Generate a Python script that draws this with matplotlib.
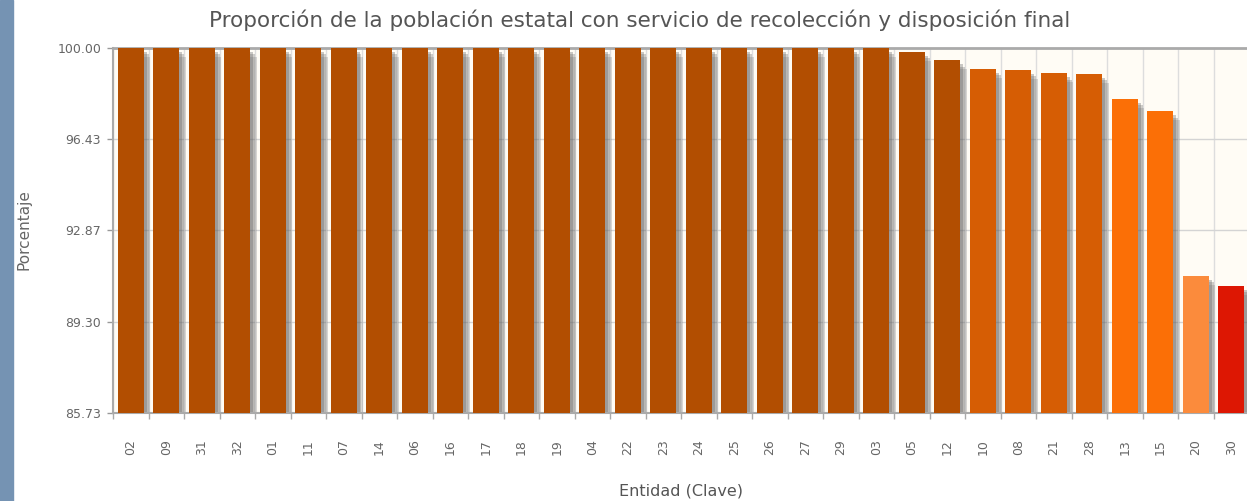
import numpy as np
import matplotlib
matplotlib.use('Agg')
import matplotlib.pyplot as plt
from matplotlib.patches import Rectangle

# Data
claves = ['02', '09', '31', '32', '01', '11', '07', '14', '06', '16',
          '17', '18', '19', '04', '22', '23', '24', '25', '26', '27',
          '29', '03', '05', '12', '10', '08', '21', '28', '13', '15',
          '20', '30']
valores = [100.00] * 22 + [99.85, 99.52, 99.19, 99.15, 99.01, 98.99,
                           98.01, 97.52, 91.09, 90.70]
colores = ['#b24e01'] * 24 + ['#d65d04'] * 4 + ['#fb6f06'] * 2 + ['#fb8b3c', '#dd1703']

y_min, y_max = 85.73, 100.00
titulo = 'Proporción de la población estatal con servicio de recolección y disposición final'

W, H = 1247, 501
fig = plt.figure(figsize=(W / 100, H / 100), dpi=100)
fig.patch.set_facecolor('white')

# blue strip at the left edge
fig.patches.append(Rectangle((0, 0), 13 / W, 1, transform=fig.transFigure,
                             color='#7593b3', zorder=0))

ax = fig.add_axes([113 / W, (H - 413) / H, (1249 - 113) / W, 365 / H])
ax.set_facecolor('#fffcf5')

x = np.arange(len(claves))
alturas = np.array(valores) - y_min

# blurred shadow to the right of each bar (stacked layers)
for dx, dy, a in [(0.19, 0.35, 0.22), (0.14, 0.25, 0.3), (0.09, 0.15, 0.35)]:
    ax.bar(x + dx, alturas - dy, width=0.72, bottom=y_min, color='#666666',
           alpha=a, zorder=2, linewidth=0)
ax.bar(x, alturas, width=0.72, bottom=y_min, color=colores, zorder=3, linewidth=0)

ax.set_xlim(-0.5, len(claves) - 0.5)
ax.set_ylim(y_min, y_max)

yt = np.linspace(y_min, y_max, 5)
ax.set_yticks(yt)
ax.set_yticklabels([f'{v:.2f}' for v in yt])
ax.set_xticks(x)
ax.set_xticklabels(claves, rotation=90)
ax.set_xticks(np.arange(len(claves) + 1) - 0.5, minor=True)

ax.tick_params(axis='y', length=4.5, width=1, color='#999999', pad=4,
               labelsize=9, labelcolor='#666666')
ax.tick_params(axis='x', which='major', length=0, pad=19, labelsize=9, labelcolor='#666666')
ax.tick_params(axis='x', which='minor', length=4, width=1, color='#aaaaaa')

ax.grid(axis='y', color='#d4d4d4', linewidth=1, zorder=1)
ax.grid(axis='x', which='minor', color='#dddddd', linewidth=1, zorder=1)
ax.set_axisbelow(True)

for s in ['left', 'bottom']:
    ax.spines[s].set_color('#aaaaaa')
    ax.spines[s].set_linewidth(1.5)
ax.spines['top'].set_color('#aaaaaa')
ax.spines['top'].set_linewidth(2)
ax.spines['right'].set_visible(False)

fig.text(640 / W, 1 - 27 / H, titulo, ha='center', va='baseline', fontsize=15.5, color='#555555')
fig.text(24 / W, 1 - 230 / H, 'Porcentaje', rotation=90, ha='center', va='center',
         fontsize=11, color='#666666')
fig.text(681 / W, 1 - 496 / H, 'Entidad (Clave)', ha='center', va='baseline',
         fontsize=11.5, color='#555555')

fig.savefig('out.png', dpi=100)
